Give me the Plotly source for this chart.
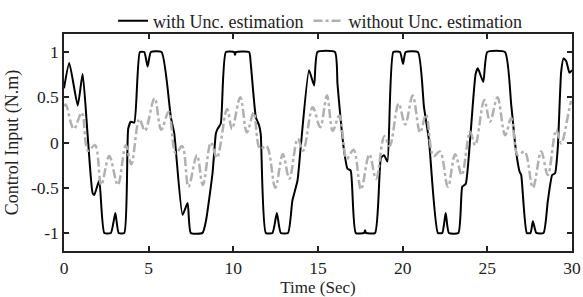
import plotly.graph_objects as go

# "with Unc. estimation" (black solid)
t_with = [0, 0.31, 0.81, 1.10, 1.40, 1.69, 1.79, 2.08, 2.38, 2.77, 3.03, 3.23, 3.56,
          3.79, 3.95, 4.15, 4.48, 4.74, 4.94, 5.13, 5.76, 6.31, 6.51, 7.0, 7.30, 7.49,
          8.18, 8.38, 8.77, 8.97, 9.07, 9.26, 9.56, 10.05, 10.1, 10.15, 10.93, 11.03,
          11.33, 11.52, 11.62, 11.92, 12.31, 12.57, 12.80, 13.23, 13.49, 13.79, 13.98,
          14.47, 14.77, 14.97, 16.0, 16.15, 16.34, 16.54, 16.74, 16.93, 17.23, 17.73,
          17.78, 17.83, 18.37, 18.72, 18.9, 19.1, 19.45, 19.84, 20.02, 20.18, 20.90,
          21.26, 21.55, 22.08, 22.34, 22.54, 22.73, 23.29, 23.52, 23.72, 24.01, 24.31,
          24.44, 24.76, 25.0, 26.04, 26.41, 26.67, 26.9, 27.0, 27.33, 27.55, 27.69,
          27.89, 28.32, 28.57, 28.83, 29.0, 29.16, 29.36, 29.5, 29.66, 29.85, 30.0]
u_with = [0.6, 0.88, 0.41, 0.76, 0.07, -0.56, -0.58, -0.42, -1, -1, -0.78, -1, -1,
          0.15, 0.23, 0.22, 1, 1, 0.84, 1, 1, 0.28, 0.10, -0.80, -0.67, -1,
          -1, -0.87, -0.34, 0.10, 0.15, 0.21, 1, 1, 0.97, 1, 1, 0.87,
          0.28, 0.19, 0.09, -1, -1, -0.78, -1, -1, -0.64, -0.42, -0.05,
          0.80, 0.63, 1, 1, 0.65, 0.25, -0.09, -0.29, -0.31, -1, -1,
          -0.97, -1, -1, -0.17, -0.14, -0.21, 1, 1, 0.87, 1, 1,
          0.39, 0.03, -1, -1, -0.78, -1, -1, -0.49, -0.46, 0.10, 0.76,
          0.82, 0.67, 1, 1, 0.42, -0.06, -0.32, -0.36, -1, -1, -0.87,
          -1, -1, -0.65, -0.36, -0.34, -0.06, 0.78, 0.93, 0.90, 0.77, 0.80]

# "without Unc. estimation" (gray dash-dot)
t_without = [0, 0.1, 0.58, 1.05, 1.42, 1.83, 2.2, 2.67, 3.18, 3.65, 3.97, 4.45, 4.78,
             5.35, 5.74, 6.18, 6.6, 6.98, 7.35, 7.85, 8.2, 8.68, 9.03, 9.63, 9.92,
             10.41, 10.8, 11.2, 11.58, 11.96, 12.48, 12.92, 13.31, 13.8, 14.12, 14.69,
             15.13, 15.53, 15.87, 16.26, 16.7, 17.1, 17.54, 18.03, 18.43, 18.92, 19.23,
             19.76, 20.15, 20.59, 21.03, 21.38, 21.82, 22.2, 22.67, 23.1, 23.49, 23.98,
             24.28, 24.82, 25.16, 25.6, 26.05, 26.41, 26.8, 27.2, 27.69, 28.18, 28.57,
             29.07, 29.36, 29.95, 30.0]
u_without = [0.40, 0.42, 0.15, 0.33, -0.09, -0.03, -0.47, -0.15, -0.47, -0.03, -0.24, 0.26, 0.13,
             0.49, 0.14, 0.34, -0.12, -0.04, -0.49, -0.14, -0.47, 0.0, -0.17, 0.37, 0.15,
             0.50, 0.11, 0.33, -0.07, -0.04, -0.50, -0.13, -0.40, 0.04, -0.09, 0.39,
             0.17, 0.52, 0.13, 0.30, -0.18, -0.08, -0.52, -0.13, -0.40, 0.07, -0.04,
             0.43, 0.20, 0.52, 0.11, 0.31, -0.15, -0.10, -0.49, -0.13, -0.36, 0.12,
             -0.03, 0.47, 0.23, 0.50, 0.08, 0.27, -0.14, -0.10, -0.50, -0.10, -0.36,
             0.14, -0.01, 0.45, 0.43]

x_ticks = [0, 5, 10, 15, 20, 25, 30]
y_ticks = [-1, -0.5, 0, 0.5, 1]
y_ticktext = ["-1", "-0.5", "0", "0.5", "1"]

FONT = "Liberation Serif"
FS = 18

fig = go.Figure()
fig.add_trace(go.Scatter(x=t_with, y=u_with, mode="lines", name="with Unc. estimation",
                         line=dict(color="black", width=2, shape="spline", smoothing=0.5)))
fig.add_trace(go.Scatter(x=t_without, y=u_without, mode="lines", name="without Unc. estimation",
                         line=dict(color="#b0b0b0", width=2.5, dash="dashdot", shape="spline")))

axis_common = dict(showline=True, linecolor="#222", linewidth=1.5, mirror="ticks",
                   ticks="inside", ticklen=5, tickwidth=1.5, tickcolor="#222",
                   showgrid=False, zeroline=False, automargin=False,
                   tickfont=dict(family=FONT, size=17.5, color="#222"))

fig.update_layout(
    width=583, height=297,
    margin=dict(l=64, r=10.5, t=33.5, b=46, autoexpand=False),
    paper_bgcolor="white", plot_bgcolor="white",
    font=dict(family=FONT, size=FS, color="#222"),
    showlegend=True,
    legend=dict(orientation="h", x=0.549, xanchor="center", xref="container",
                y=1 - 21 / 297, yanchor="middle", yref="container",
                font=dict(family=FONT, size=FS, color="#222"),
                bgcolor="rgba(0,0,0,0)", itemwidth=30, tracegroupgap=0),
    xaxis=dict(range=[0, 30], tickvals=x_ticks,
               title=dict(text="Time (Sec)", font=dict(family=FONT, size=17), standoff=4),
               **axis_common),
    yaxis=dict(range=[-1.2, 1.2], tickvals=y_ticks, ticktext=y_ticktext,
               title=dict(text="Control Input (N.m)", font=dict(family=FONT, size=FS), standoff=8),
               **axis_common),
)

fig.write_html("out.html", config={"displayModeBar": False},
               post_script="document.body.style.margin='0';")
